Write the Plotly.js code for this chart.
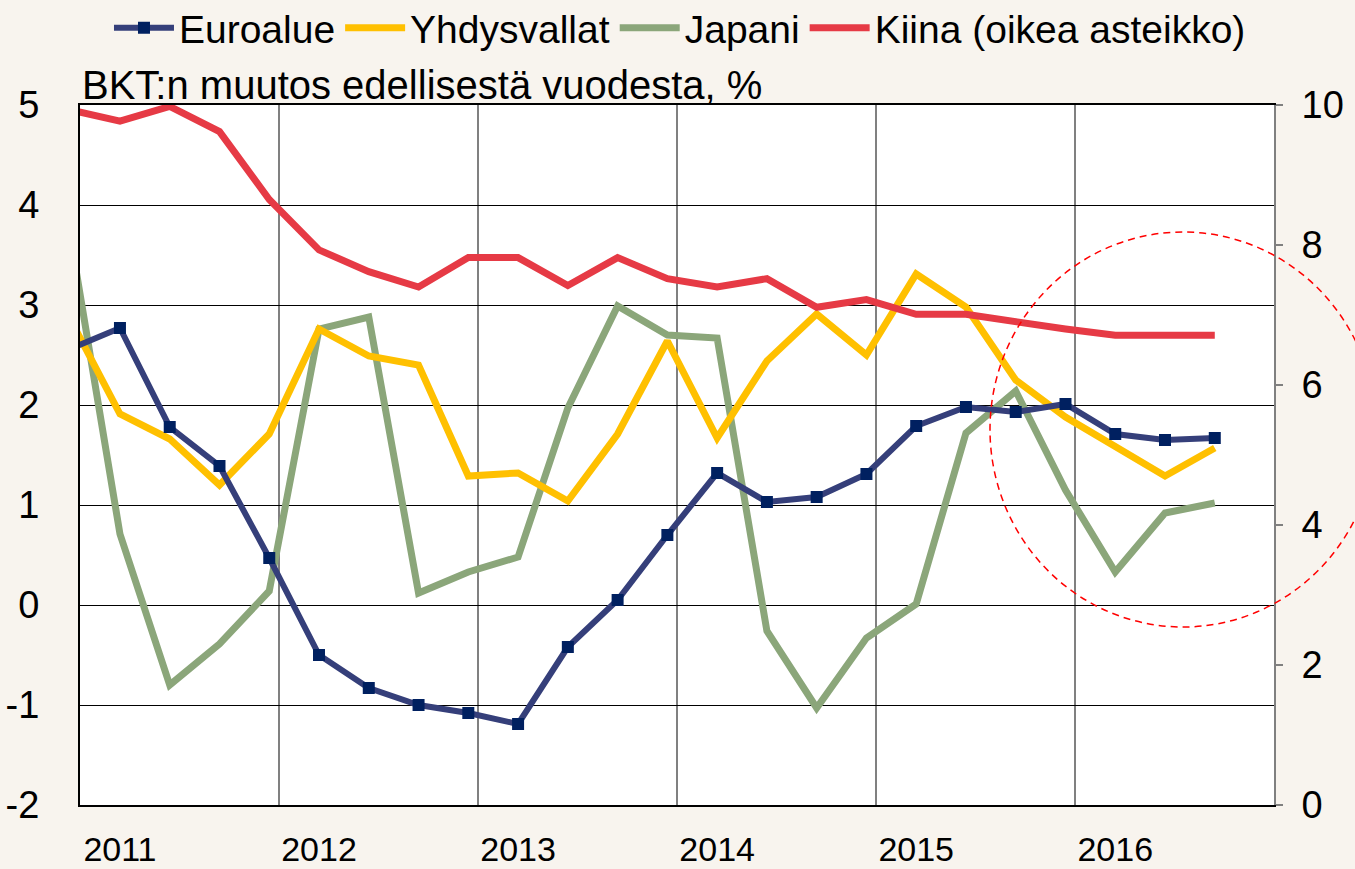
<!DOCTYPE html>
<html>
<head>
<meta charset="utf-8">
<script src="https://cdn.plot.ly/plotly-3.0.1.min.js"></script>
<style>
  html, body { margin: 0; padding: 0; background: #F8F4EE; }
  #chart { width: 1355px; height: 869px; }
</style>
</head>
<body>
<div id="chart"></div>
<script>
// Quarters (2010Q4 is only partly visible at the left edge)
const quarters = ['2010Q4',
  '2011Q1','2011Q2','2011Q3','2011Q4',
  '2012Q1','2012Q2','2012Q3','2012Q4',
  '2013Q1','2013Q2','2013Q3','2013Q4',
  '2014Q1','2014Q2','2014Q3','2014Q4',
  '2015Q1','2015Q2','2015Q3','2015Q4',
  '2016Q1','2016Q2','2016Q3'];

// GDP change from previous year, %
const euroalue = [2.56, 2.77, 1.78, 1.39, 0.47, -0.50, -0.83, -1.00, -1.08, -1.19, -0.42, 0.05, 0.70, 1.32, 1.03, 1.08, 1.31, 1.79, 1.98, 1.93, 2.01, 1.71, 1.65, 1.67];
const yhdysvallat = [2.86, 1.91, 1.66, 1.20, 1.71, 2.76, 2.49, 2.40, 1.29, 1.32, 1.04, 1.71, 2.64, 1.67, 2.44, 2.91, 2.50, 3.31, 2.98, 2.25, 1.88, 1.59, 1.29, 1.57];
const japani = [3.70, 0.71, -0.80, -0.39, 0.14, 2.76, 2.88, 0.12, 0.33, 0.48, 1.97, 2.99, 2.70, 2.67, -0.26, -1.03, -0.33, 0.01, 1.72, 2.14, 1.15, 0.33, 0.92, 1.02];
const kiina = [9.93, 9.77, 9.98, 9.62, 8.65, 7.93, 7.62, 7.40, 7.82, 7.82, 7.42, 7.82, 7.52, 7.40, 7.52, 7.11, 7.22, 7.01, 7.01, 6.90, 6.80, 6.71, 6.71, 6.71];

const years = ['2011','2012','2013','2014','2015','2016'];
const leftTicks = [-2, -1, 0, 1, 2, 3, 4, 5];
const leftTickText = ['-2', '-1', '0', '1', '2', '3', '4', '5'];
const rightTicks = [0, 2, 4, 6, 8, 10];

const titleText = 'BKT:n muutos edellisestä vuodesta, %';

// positions along the x axis come from the quarter index
const xs = quarters.map((q, i) => i);
const yearTickVals = years.map(y => quarters.indexOf(y + 'Q1'));
const yearBoundaries = years.slice(1).map(y => quarters.indexOf(y + 'Q1') - 0.8);

const FONT = 'Arial, "Liberation Sans", sans-serif';

const traces = [
  {
    name: 'Japani', x: xs, y: japani, type: 'scatter', mode: 'lines',
    line: { color: '#8BA67A', width: 7 }, legendrank: 3
  },
  {
    name: 'Yhdysvallat', x: xs, y: yhdysvallat, type: 'scatter', mode: 'lines',
    line: { color: '#FFC000', width: 7 }, legendrank: 2
  },
  {
    name: 'Euroalue', x: xs, y: euroalue, type: 'scatter', mode: 'lines+markers',
    line: { color: '#353F7A', width: 6 },
    marker: { symbol: 'square', size: 12, color: '#002060' }, legendrank: 1
  },
  {
    name: 'Kiina (oikea asteikko)', x: xs, y: kiina, type: 'scatter', mode: 'lines',
    yaxis: 'y2', line: { color: '#E63A45', width: 7 }, legendrank: 4
  }
];

const W = 1355, H = 869;
const L = 80, R = 81, T = 105, B = 64;
const pw = W - L - R, ph = H - T - B;
// dashed ellipse (pixel geometry -> paper)
const ell = { left: 990, right: 1376, top: 232, bottom: 627 };

const layout = {
  width: W, height: H,
  margin: { l: L, r: R, t: T, b: B, pad: 0 },
  paper_bgcolor: '#F8F4EE',
  plot_bgcolor: '#FFFFFF',
  font: { family: FONT, color: '#000', size: 38 },
  showlegend: true,
  legend: {
    orientation: 'h', x: 0.5025, xanchor: 'center',
    yref: 'container', y: 0.968, yanchor: 'middle',
    font: { family: FONT, size: 39, color: '#000' },
    bgcolor: 'rgba(0,0,0,0)', itemwidth: 60, traceorder: 'normal'
  },
  xaxis: {
    range: [0.197, 24.19],
    tickmode: 'array', tickvals: yearTickVals, ticktext: years,
    showgrid: false, zeroline: false,
    showline: true, linecolor: '#000', linewidth: 2, mirror: true,
    ticks: '', ticklabelstandoff: 13,
    tickfont: { family: FONT, size: 34, color: '#000' },
    minor: { tickmode: 'array', tickvals: yearBoundaries, showgrid: true, gridcolor: '#808080', gridwidth: 2, ticks: '' },
    fixedrange: true
  },
  yaxis: {
    range: [-2, 5], tickmode: 'array', tickvals: leftTicks, ticktext: leftTickText,
    showgrid: true, gridcolor: '#000', gridwidth: 1,
    zeroline: false, showline: true, linecolor: '#000', linewidth: 2,
    ticks: '', ticklabelstandoff: 31,
    tickfont: { family: FONT, size: 38, color: '#000' }
  },
  yaxis2: {
    range: [0, 10], tickmode: 'array', tickvals: rightTicks, overlaying: 'y', side: 'right',
    showgrid: false, zeroline: false,
    showline: true, linecolor: '#808080', linewidth: 2,
    ticks: 'outside', ticklen: 7, tickwidth: 2, tickcolor: '#808080',
    ticklabelstandoff: 11,
    tickfont: { family: FONT, size: 38, color: '#000' }
  },
  annotations: [
    {
      text: titleText, xref: 'paper', yref: 'paper', x: 0, y: 1,
      xanchor: 'left', yanchor: 'bottom', showarrow: false, yshift: -4, xshift: 0,
      font: { family: FONT, size: 40, color: '#000' }
    }
  ],
  shapes: [
    {
      type: 'circle', xref: 'paper', yref: 'paper', layer: 'above',
      x0: (ell.left - L) / pw, x1: (ell.right - L) / pw,
      y0: (H - B - ell.bottom) / ph, y1: (H - B - ell.top) / ph,
      line: { color: '#FF0000', width: 1.5, dash: '7px,5px' }
    }
  ]
};

Plotly.newPlot('chart', traces, layout, { staticPlot: true, displayModeBar: false });
</script>
</body>
</html>
